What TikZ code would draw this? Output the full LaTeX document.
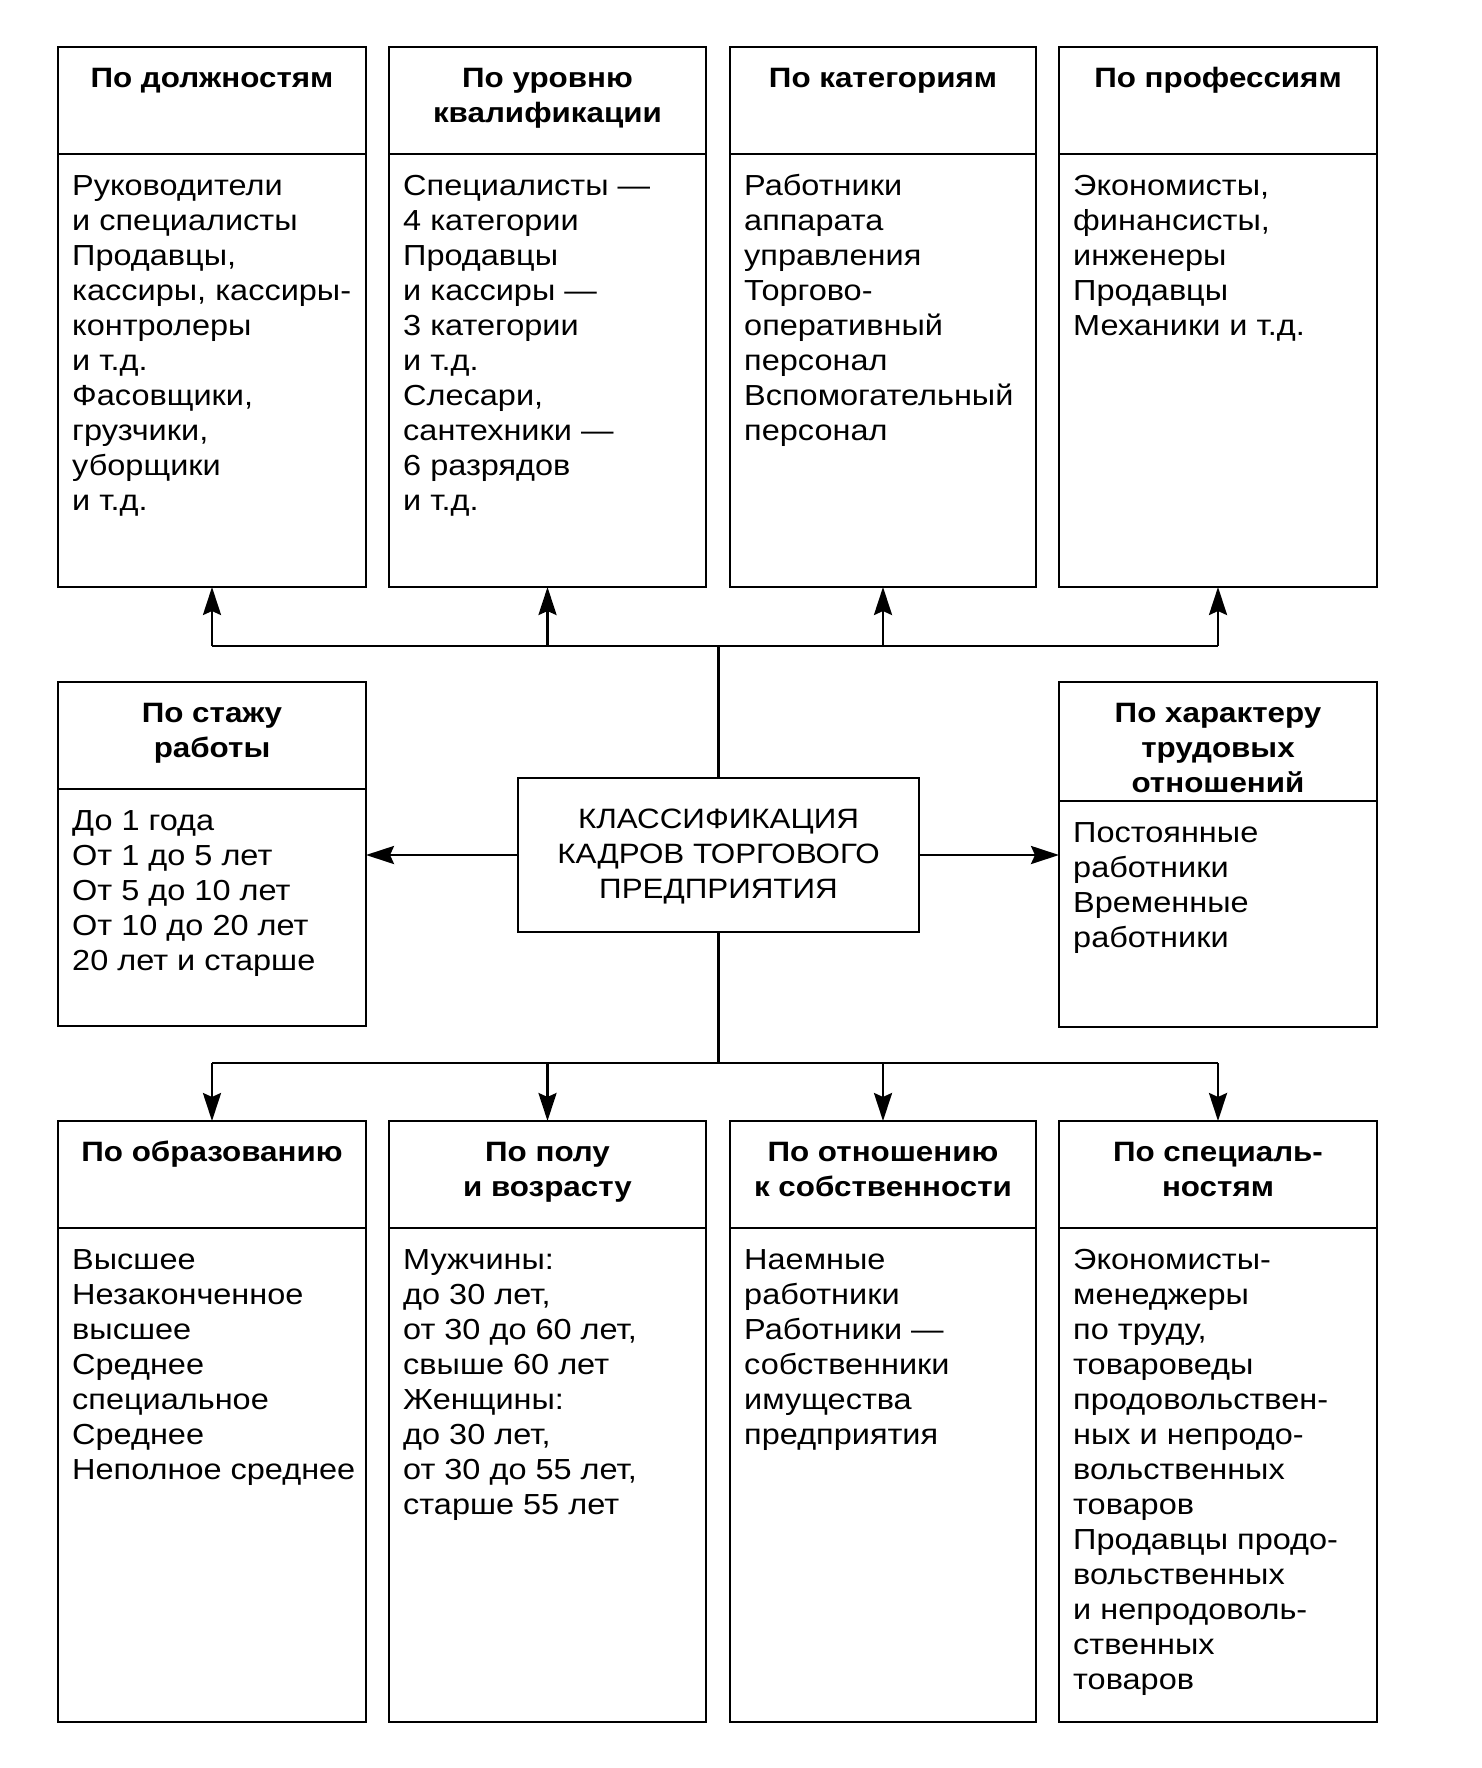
\documentclass[tikz,border=0pt]{standalone}
\usepackage{fontspec}
\setmainfont{Liberation Sans}[FakeStretch=1.12]
\usetikzlibrary{arrows.meta,calc}
\tikzset{
  kbox/.style={draw, line width=2.8pt, inner sep=0pt, outer sep=0pt, anchor=north west},
  head/.style={inner sep=0pt, align=center, font=\bfseries\fontsize{28}{35}\selectfont},
  body/.style={inner sep=0pt, align=left, font=\fontsize{29}{35}\selectfont},
  conn/.style={line width=2.8pt},
  arr/.style={line width=2.8pt, -{Stealth[length=28pt,width=18pt,inset=4pt]}}
}
\newcommand{\kbox}[8]{%
  \node[kbox, minimum width=#4pt, minimum height=#5pt] (#1) at (#2,#3) {};
  \draw[line width=2.8pt] ($(#1.north west)+(0,#6)$) -- ($(#1.north east)+(0,#6)$);
  \node[head, anchor=north] (#1h) at ($(#1.north)+(0,15.5)$) {\strut #7};
  \node[body, anchor=north west] (#1b) at ($(#1.north west)+(14,#6+16.5)$) {\strut #8};
}
\begin{document}
\begin{tikzpicture}[x=1pt,y=-1pt]
\useasboundingbox[fill=white] (0,0) rectangle (1481,1768);

\kbox{b1}{58}{47}{308}{540}{107}{По должностям}{Руководители\\и специалисты\\Продавцы,\\кассиры, кассиры-\\контролеры\\и т.д.\\Фасовщики,\\грузчики,\\уборщики\\и т.д.}
\kbox{b2}{389}{47}{317}{540}{107}{По уровню\\квалификации}{Специалисты —\\4 категории\\Продавцы\\и кассиры —\\3 категории\\и т.д.\\Слесари,\\сантехники —\\6 разрядов\\и т.д.}
\kbox{b3}{730}{47}{306}{540}{107}{По категориям}{Работники\\аппарата\\управления\\Торгово-\\оперативный\\персонал\\Вспомогательный\\персонал}
\kbox{b4}{1059}{47}{318}{540}{107}{По профессиям}{Экономисты,\\финансисты,\\инженеры\\Продавцы\\Механики и т.д.}

\kbox{ml}{58}{682}{308}{344}{107}{По стажу\\работы}{До 1 года\\От 1 до 5 лет\\От 5 до 10 лет\\От 10 до 20 лет\\20 лет и старше}
\kbox{mr}{1059}{682}{318}{345}{119}{По характеру\\трудовых\\отношений}{Постоянные\\работники\\Временные\\работники}

\node[kbox, minimum width=401pt, minimum height=154pt] (c) at (518,778) {};
\node[body, align=center, font=\fontsize{28}{35}\selectfont] (ct) at ($(c.center)+(0,2)$) {КЛАССИФИКАЦИЯ\\КАДРОВ ТОРГОВОГО\\ПРЕДПРИЯТИЯ};

\kbox{d1}{58}{1121}{308}{601}{107}{По образованию}{Высшее\\Незаконченное\\высшее\\Среднее\\специальное\\Среднее\\Неполное среднее}
\kbox{d2}{389}{1121}{317}{601}{107}{По полу\\и возрасту}{Мужчины:\\до 30 лет,\\от 30 до 60 лет,\\свыше 60 лет\\Женщины:\\до 30 лет,\\от 30 до 55 лет,\\старше 55 лет}
\kbox{d3}{730}{1121}{306}{601}{107}{По отношению\\к собственности}{Наемные\\работники\\Работники —\\собственники\\имущества\\предприятия}
\kbox{d4}{1059}{1121}{318}{601}{107}{По специаль-\\ностям}{Экономисты-\\менеджеры\\по труду,\\товароведы\\продовольствен-\\ных и непродо-\\вольственных\\товаров\\Продавцы продо-\\вольственных\\и непродоволь-\\ственных\\товаров}

\coordinate (tbus) at (719,646);
\coordinate (bbus) at (719,1063);
\draw[conn] (c.north) -- (c.north |- tbus);
\draw[conn] (b1.south |- tbus) -- (b4.south |- tbus);
\foreach \b in {b1,b2,b3,b4} \draw[arr] (\b.south |- tbus) -- (\b.south);
\draw[conn] (c.south) -- (c.south |- bbus);
\draw[conn] (d1.north |- bbus) -- (d4.north |- bbus);
\foreach \b in {d1,d2,d3,d4} \draw[arr] (\b.north |- bbus) -- (\b.north);
\draw[arr] (c.west) -- (c.west -| ml.east);
\draw[arr] (c.east) -- (c.east -| mr.west);
\end{tikzpicture}
\end{document}
